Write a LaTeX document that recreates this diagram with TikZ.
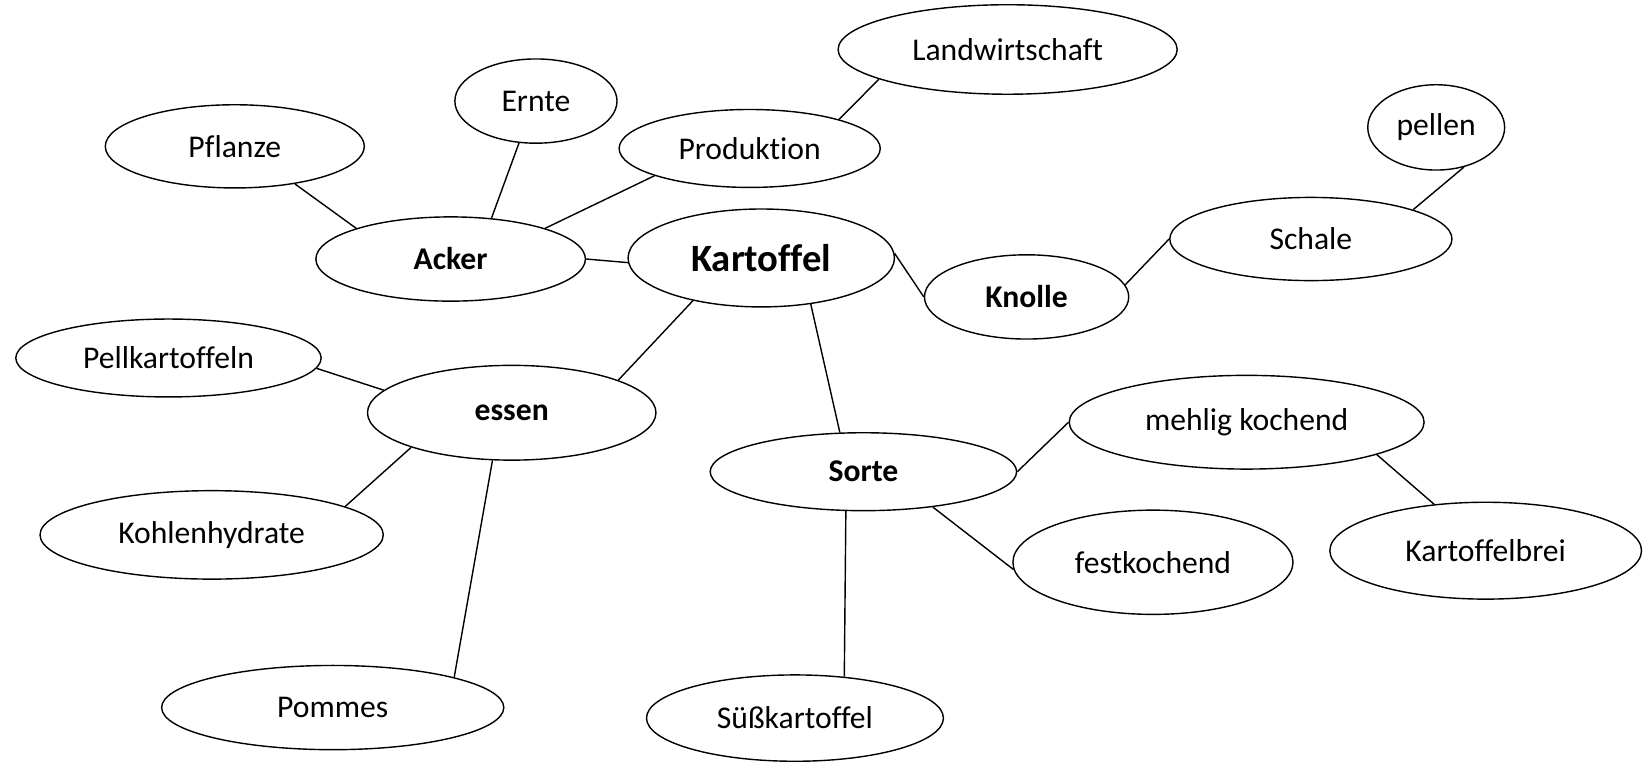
\documentclass[tikz,border=0pt]{standalone}
\usepackage{fontspec}
\setmainfont[Ligatures=NoCommon]{Carlito}
\usetikzlibrary{shapes.geometric}
\newdimen\px
\px=0.01053cm

\begin{document}
\begin{tikzpicture}[x=0.01053cm, y=-0.01053cm,
		blob/.style n args={2}{ellipse, draw, inner sep=0pt, minimum width=#1*\px, minimum height=#2*\px, font=\fontsize{9}{11}\selectfont},
		hub/.style={font=\fontsize{9}{11}\selectfont\bfseries}]
			\useasboundingbox (0,0) rectangle (1568,724);

			\node[blob={253}{93}, font=\fontsize{11}{13}\selectfont\bfseries] (kartoffel) at (723,245) {Kartoffel};
			\node[blob={256}{80}, hub] (acker) at (428,246) {Acker};
			\node[blob={194}{80}, hub] (knolle) at (975,282) {Knolle};
			\node[blob={274}{90}, hub] (essen) at (486,392) {essen};
			\node[blob={291}{74}, hub] (sorte) at (820,448) {Sorte};
			\node[blob={246}{79}] (pflanze) at (223,139) {Pflanze};
			\node[blob={154}{80}] (ernte) at (509,96) {Ernte};
			\node[blob={248}{74}] (produktion) at (712,141) {Produktion};
			\node[blob={322}{85}] (landwirtschaft) at (957,47) {Landwirtschaft};
			\node[blob={268}{79}] (schale) at (1245,227) {Schale};
			\node[blob={130}{81}] (pellen) at (1364,121) {pellen};
			\node[blob={290}{74}] (pellkartoffeln) at (160,340) {Pellkartoffeln};
			\node[blob={326}{84}] (kohlenhydrate) at (201,508) {Kohlenhydrate};
			\node[blob={325}{80}] (pommes) at (316,672) {Pommes};
			\node[blob={337}{89}] (mehlig) at (1184,401) {mehlig kochend};
			\node[blob={266}{99}] (fest) at (1095,534) {festkochend};
			\node[blob={296}{92}] (brei) at (1411,523) {Kartoffelbrei};
			\node[blob={282}{82}] (suess) at (755,682) {Süßkartoffel};

			\draw (pflanze.328) -- (acker.162)
				(ernte.248) -- (acker.45)
				(produktion.196) -- (acker.18)
				(produktion.18) -- (landwirtschaft.193)
				(acker.0) -- (kartoffel.182)
				(kartoffel.2) -- (knolle.180)
				(knolle.7) -- (schale.180)
				(schale.16) -- (pellen.305)
				(kartoffel.212) -- (essen.17)
				(kartoffel.317) -- (sorte.121)
				(essen.170) -- (pellkartoffeln.356)
				(essen.199) -- (kohlenhydrate.12)
				(essen.248) -- (pommes.14)
				(sorte.0) -- (mehlig.180)
				(sorte.333) -- (fest.183)
				(sorte.246) -- (suess.40)
				(mehlig.346) -- (brei.138);
		\end{tikzpicture}
\end{document}
